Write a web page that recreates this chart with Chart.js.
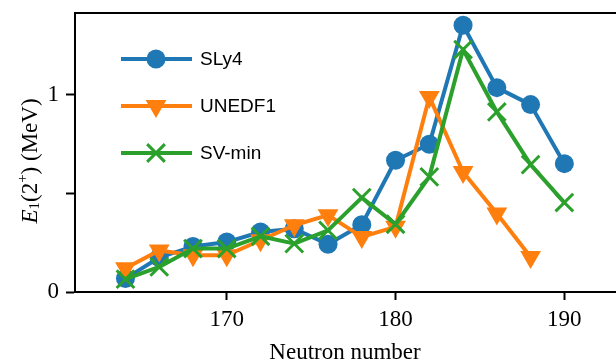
<!DOCTYPE html>
<html>
<head>
<meta charset="utf-8">
<script src="https://cdn.jsdelivr.net/npm/chart.js@4/dist/chart.umd.min.js"></script>
<style>
html,body{margin:0;padding:0;background:#fff;}
#wrap{width:616px;height:364px;position:relative;}
</style>
</head>
<body>
<div id="wrap"><canvas id="c" width="616" height="364"></canvas></div>
<script>
// ---- data ----
const neutronsSLy4   = [164,166,168,170,172,174,176,178,180,182,184,186,188,190];
const valuesSLy4     = [0.068,0.175,0.23,0.253,0.304,0.32,0.242,0.341,0.667,0.748,1.351,1.035,0.949,0.650];
const neutronsUNEDF1 = [164,166,168,170,172,174,176,178,180,182,184,186,188];
const valuesUNEDF1   = [0.12,0.21,0.186,0.186,0.262,0.338,0.389,0.279,0.33,0.988,0.608,0.397,0.177];
const neutronsSVmin  = [164,166,168,170,172,174,176,178,180,182,184,186,188,190];
const valuesSVmin    = [0.065,0.127,0.22,0.22,0.282,0.245,0.312,0.478,0.343,0.583,1.228,0.912,0.645,0.453];
const seriesNames    = ['SLy4','UNEDF1','SV-min'];
const xTickValues    = [170,180,190];
const yTickValues    = [0,0.5,1];
const yTickLabels    = ['0','','1'];

const colors = ['#1f77b4','#ff7f0e','#2ca02c'];
const toPts = (xs, ys) => xs.map((x,i)=>({x:x,y:ys[i]}));

const serif = "'Liberation Serif', 'Times New Roman', serif";
const sans = "'Liberation Sans', Arial, sans-serif";

const datasets = [
  {label:seriesNames[0], data:toPts(neutronsSLy4,valuesSLy4), borderColor:colors[0], backgroundColor:colors[0],
   pointStyle:'circle', pointRadius:9.5, pointHoverRadius:9.5, pointBorderWidth:0, order:3},
  {label:seriesNames[1], data:toPts(neutronsUNEDF1,valuesUNEDF1), borderColor:colors[1], backgroundColor:colors[1],
   pointStyle:'triangle', pointRotation:180, pointRadius:12, pointHoverRadius:12, pointBorderWidth:0, order:2},
  {label:seriesNames[2], data:toPts(neutronsSVmin,valuesSVmin), borderColor:colors[2], backgroundColor:colors[2],
   pointStyle:'crossRot', pointRadius:12.5, pointHoverRadius:12.5, pointBorderWidth:3, order:1}
];
datasets.forEach(d=>{ d.borderWidth=4; d.borderJoinStyle='round'; d.borderCapStyle='round'; d.tension=0; d.fill=false; d.pointBorderColor=d.borderColor; d.clip=false; });

const customDraw = {
  id:'customDraw',
  afterDraw(chart){
    const ctx = chart.ctx, a = chart.chartArea;
    ctx.save();
    // top spine
    ctx.strokeStyle='#000'; ctx.lineWidth=2;
    ctx.beginPath(); ctx.moveTo(a.left-1, a.top); ctx.lineTo(a.right, a.top); ctx.stroke();
    // legend
    const rows = [59, 106, 153];
    chart.data.datasets.forEach((ds,i)=>{
      const y = rows[i];
      ctx.strokeStyle = ds.borderColor; ctx.lineWidth = ds.borderWidth; ctx.lineCap='butt';
      ctx.beginPath(); ctx.moveTo(121, y); ctx.lineTo(192, y); ctx.stroke();
      ctx.fillStyle = ds.backgroundColor; ctx.strokeStyle = ds.borderColor; ctx.lineWidth = ds.pointBorderWidth || 0.01;
      Chart.helpers.drawPoint(ctx, {pointStyle:ds.pointStyle, rotation:ds.pointRotation||0, radius:ds.pointRadius, borderWidth:ds.pointBorderWidth}, 156, y);
      ctx.fillStyle = '#000';
      ctx.font = "19px " + sans; ctx.textBaseline='middle'; ctx.textAlign='left';
      ctx.fillText(ds.label, 200, y+1);
    });
    // x-axis title
    ctx.fillStyle='#000';
    ctx.font = "23px " + serif; ctx.textAlign='center'; ctx.textBaseline='middle';
    ctx.fillText('Neutron number', 345, 353);
    // y-axis title, rotated, with italic E, subscript 1, superscript +
    ctx.translate(31, 161); ctx.rotate(-Math.PI/2);
    const parts = [
      {t:'E', f:"italic 23px "+serif, dy:0},
      {t:'1', f:"15px "+serif, dy:4},
      {t:'(2', f:"23px "+serif, dy:0},
      {t:'+', f:"15px "+serif, dy:-8},
      {t:') (MeV)', f:"23px "+serif, dy:0}
    ];
    let total = 0;
    parts.forEach(p=>{ ctx.font=p.f; p.w = ctx.measureText(p.t).width; total += p.w; });
    let x = -total/2;
    ctx.textAlign='left';
    parts.forEach(p=>{ ctx.font=p.f; ctx.fillText(p.t, x, p.dy); x += p.w; });
    ctx.restore();
  }
};

new Chart(document.getElementById('c'), {
  type:'line',
  data:{datasets:datasets},
  options:{
    responsive:false, animation:false, devicePixelRatio:1,
    layout:{autoPadding:false, padding:{top:13, right:0, left:0, bottom:0}},
    plugins:{legend:{display:false}, tooltip:{enabled:false}},
    scales:{
      x:{type:'linear', min:161.01, max:193.06,
         afterBuildTicks(s){ s.ticks = xTickValues.map(v=>({value:v})); },
         afterFit(s){ s.height = 72; s.paddingLeft = 0; s.paddingRight = 0; },
         grid:{drawOnChartArea:false, drawTicks:true, tickLength:8, tickColor:'#000', tickWidth:2},
         border:{display:true, color:'#000', width:2},
         ticks:{color:'#000', font:{family:serif, size:23}, padding:6, maxRotation:0,
                callback:(v)=>String(v)}
      },
      y:{type:'linear', min:0, max:1.413,
         afterBuildTicks(s){ s.ticks = yTickValues.map(v=>({value:v})); },
         afterFit(s){ s.width = 75; s.paddingTop = 0; s.paddingBottom = 0; },
         grid:{drawOnChartArea:false, drawTicks:true, tickLength:9, tickColor:'#000', tickWidth:2},
         border:{display:true, color:'#000', width:2},
         ticks:{color:'#000', font:{family:serif, size:23}, padding:7,
                callback:(v)=>{ const i = yTickValues.indexOf(v); return i>=0 ? yTickLabels[i] : ''; }}
      }
    }
  },
  plugins:[customDraw]
});
</script>
</body>
</html>
